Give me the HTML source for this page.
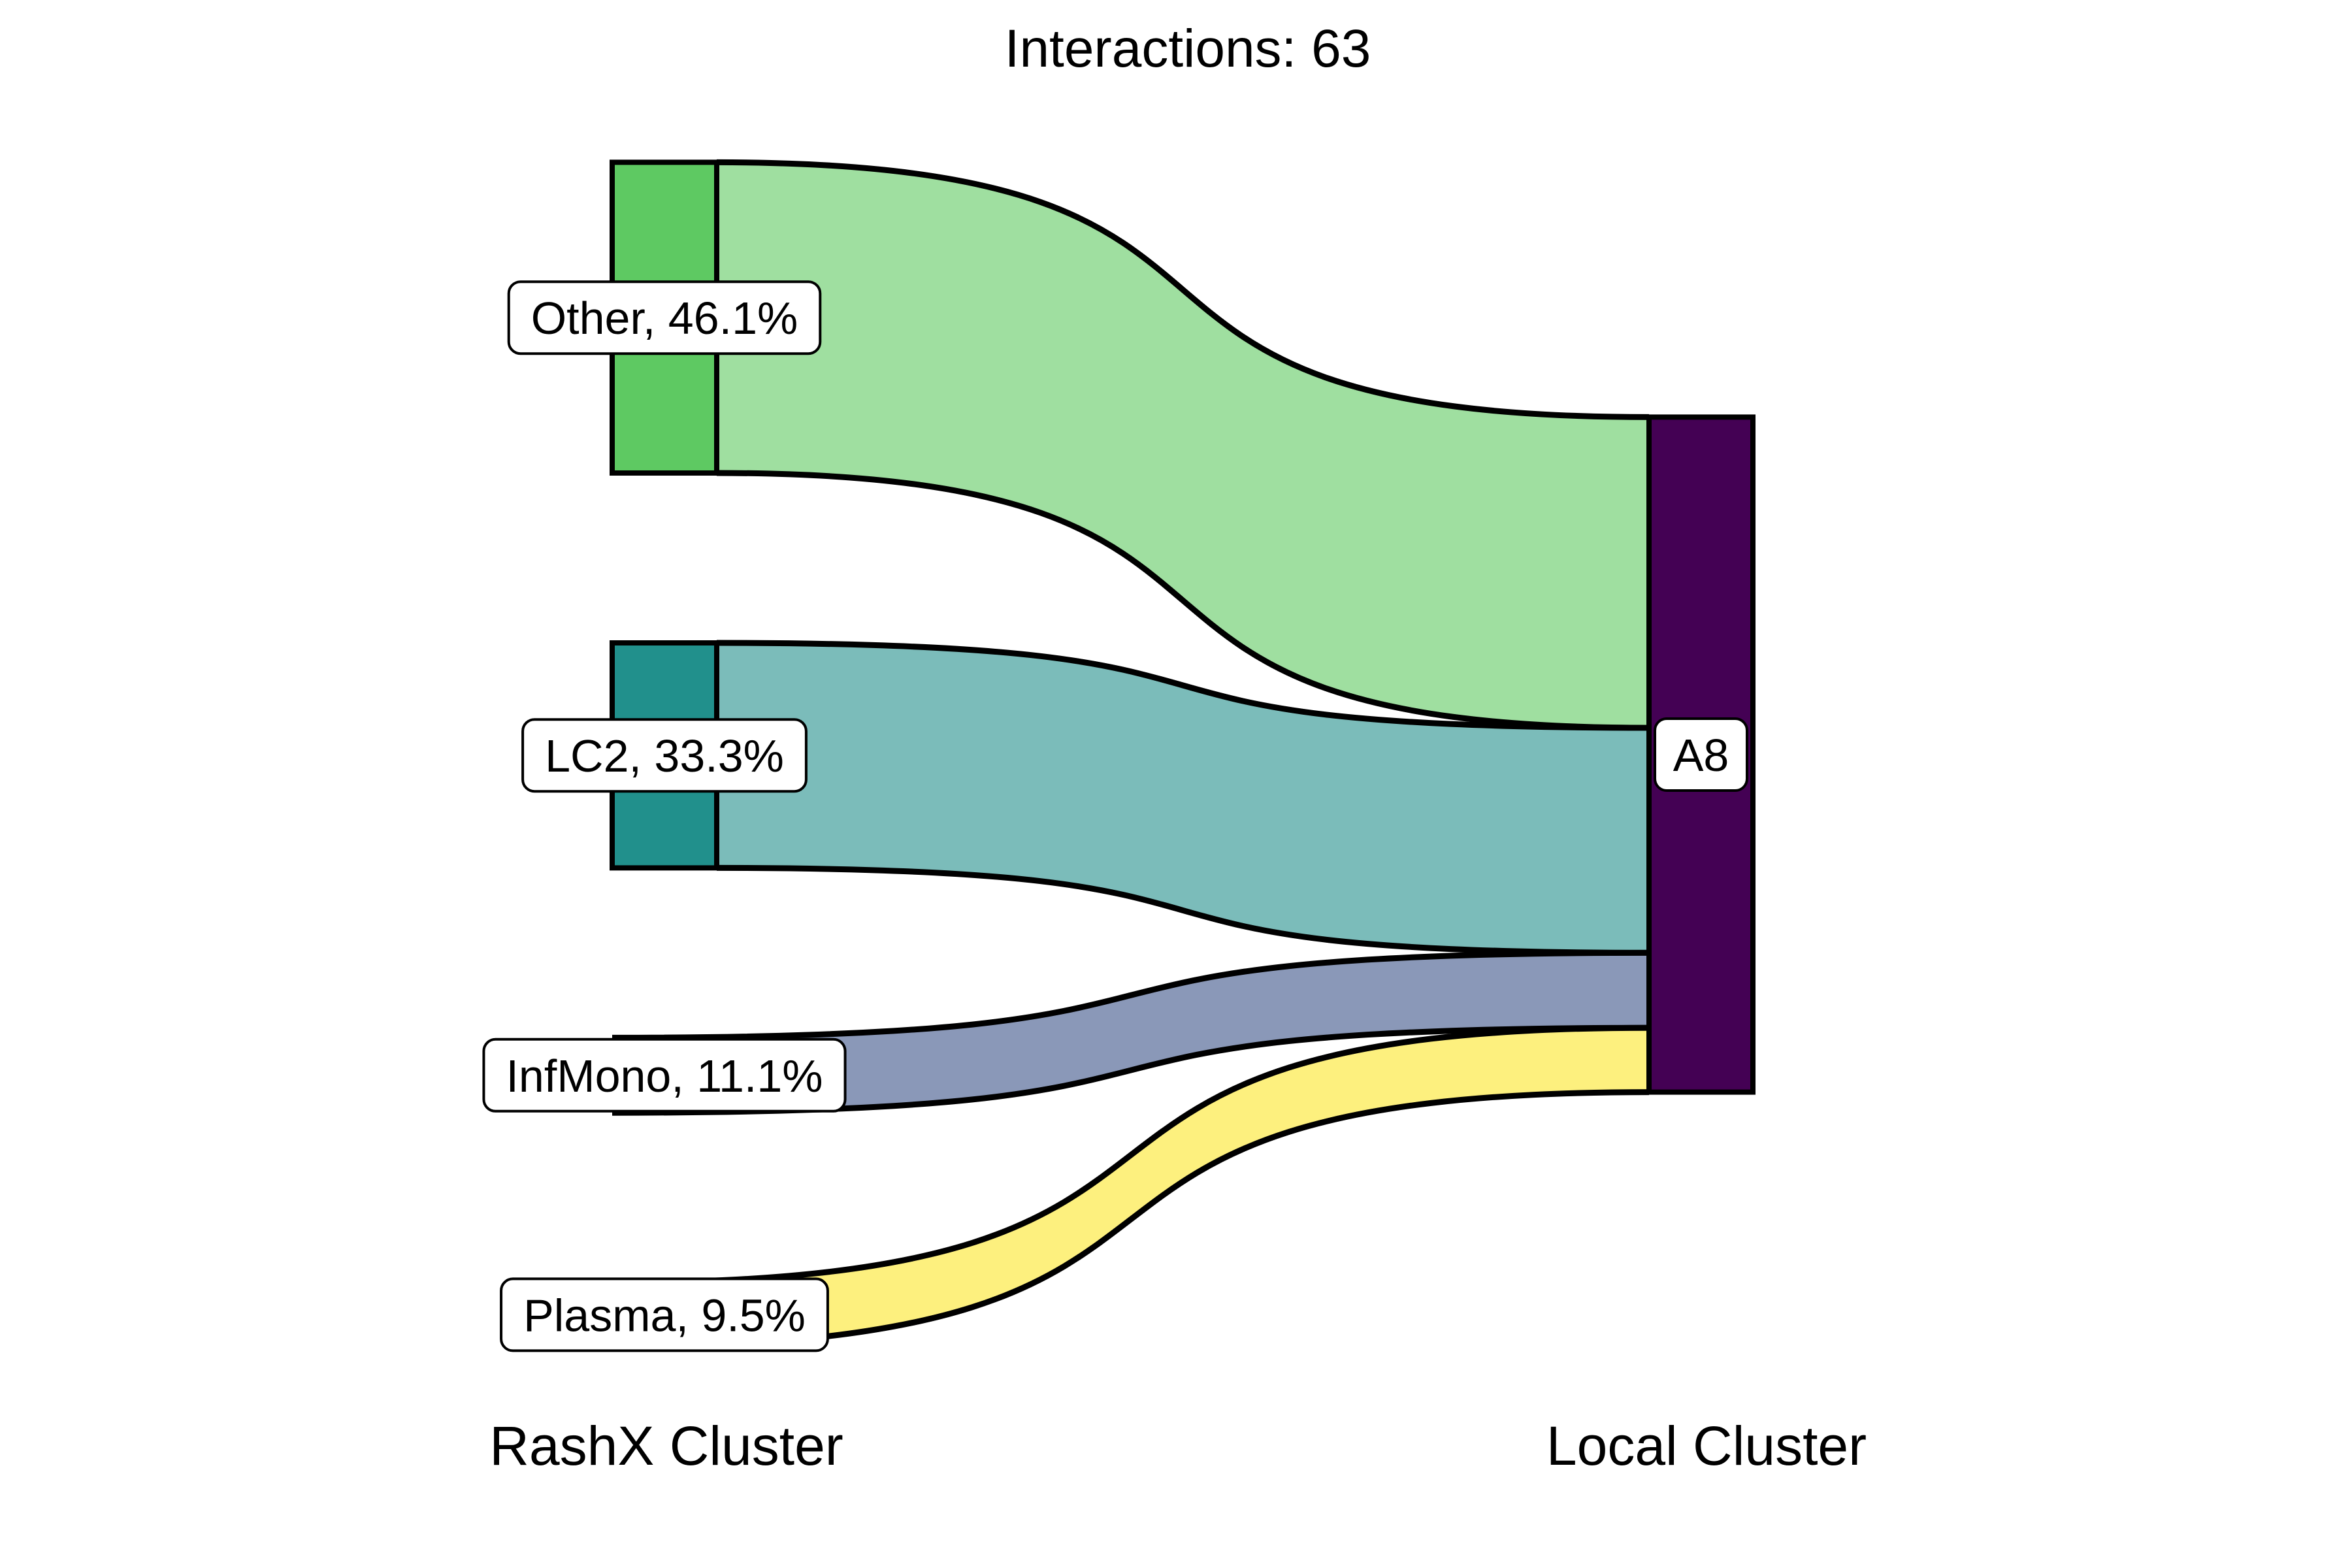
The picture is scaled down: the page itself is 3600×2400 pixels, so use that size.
<!DOCTYPE html>
<html><head><meta charset="utf-8"><style>
html,body{margin:0;padding:0;background:#fff;}
svg{display:block;font-family:"Liberation Sans",Arial,sans-serif;}
</style></head><body>
<svg id="chart" width="3600" height="2400" viewBox="0 0 3600 2400">
<text x="1818" y="102" font-size="82" text-anchor="middle">Interactions: 63</text>
<text x="1020" y="2242" font-size="84" text-anchor="middle">RashX Cluster</text>
<text x="2612" y="2242" font-size="84" text-anchor="middle">Local Cluster</text>
<g id="flows"></g><g id="nodes"></g><g id="labels"></g>
</svg>
<script>
const categories = ["Other", "LC2", "InfMono", "Plasma"];
const counts = [29, 21, 7, 6];
const pctLabels = ["46.1%", "33.3%", "11.1%", "9.5%"];
const target = "A8";
const nodeColors = ["#5EC962", "#21908C", "none", "none"];
const flowColors = ["#9FDFA0", "#7BBCBA", "#8A98B8", "#FDF07E"];
const showNode = [true, true, false, false];

const NS = "http://www.w3.org/2000/svg";
const unit = 16.4, gap = 260, center = 1155;
const lx0 = 937, lx1 = 1097, rx0 = 2524, rx1 = 2683;
const K = 0.68;
const total = counts.reduce((a, b) => a + b, 0);
function yScale(v) { return v * unit; }
const leftTotal = yScale(total) + gap * (counts.length - 1);
const leftTop = center - leftTotal / 2;
const rightTop = center - yScale(total) / 2;
const flows = document.getElementById('flows');
const nodes = document.getElementById('nodes');
const labels = document.getElementById('labels');
function mk(tag, attrs, parent) {
  const e = document.createElementNS(NS, tag);
  for (const k in attrs) e.setAttribute(k, attrs[k]);
  parent.appendChild(e); return e;
}
function curve(x1, y1, x2, y2) {
  const w = x2 - x1;
  return `C${x1 + K * w},${y1} ${x2 - K * w},${y2} ${x2},${y2}`;
}
function labelBox(cx, cy, text, w) {
  const g = mk('g', {}, labels);
  
  
  const r = mk('rect', {x: cx - w / 2, y: cy - 55, width: w, height: 110, rx: 18, fill: '#fff', stroke: '#000', 'stroke-width': 4}, g);
  
  
  const t = mk('text', {x: cx, y: cy + 25, 'font-size': 70, 'text-anchor': 'middle'}, g);
  
  
  t.textContent = text;
  return t;
}
let ly = leftTop, ry = rightTop;
counts.forEach((c, i) => {
  const h = yScale(c);
  const y0 = ly, y1 = ly + h, r0 = ry, r1 = ry + h;
  const sx = showNode[i] ? lx1 : lx0;
  const w = rx0 - sx;
  const d = `M${sx},${y0} ${curve(sx, y0, rx0, r0)} L${rx0},${r1} ` +
            `C${rx0 - K * w},${r1} ${sx + K * w},${y1} ${sx},${y1} Z`;
  const p = mk('path', {d: d, fill: flowColors[i], stroke: 'none'}, flows);
  
  
  const e = mk('path', {d: `M${sx},${y0} ${curve(sx, y0, rx0, r0)} M${sx},${y1} ${curve(sx, y1, rx0, r1)}`, fill: 'none', stroke: '#000', 'stroke-width': 9}, flows);
  
  
  const rl = mk('line', {x1: rx0, x2: rx1, y1: r1, y2: r1, stroke: '#000', 'stroke-width': 7}, nodes);
  
  
  if (showNode[i]) {
    const n = mk('rect', {x: lx0, y: y0, width: lx1 - lx0, height: h, fill: nodeColors[i], stroke: '#000', 'stroke-width': 8}, nodes);
    
    
  }
  const txt = categories[i] + ', ' + pctLabels[i];
  const t = labelBox((lx0 + lx1) / 2, (y0 + y1) / 2, txt, 100);
  const bw = t.getComputedTextLength() + 68;
  const box = t.previousSibling;
  box.setAttribute('x', (lx0 + lx1) / 2 - bw / 2);
  box.setAttribute('width', bw);
  ly = y1 + gap; ry = r1;
});
const a8 = mk('rect', {x: rx0, y: rightTop, width: rx1 - rx0, height: yScale(total), fill: '#440154', stroke: '#000', 'stroke-width': 8}, nodes);


labelBox((rx0 + rx1) / 2, rightTop + yScale(total) / 2, target, 141);
</script>
</body></html>
